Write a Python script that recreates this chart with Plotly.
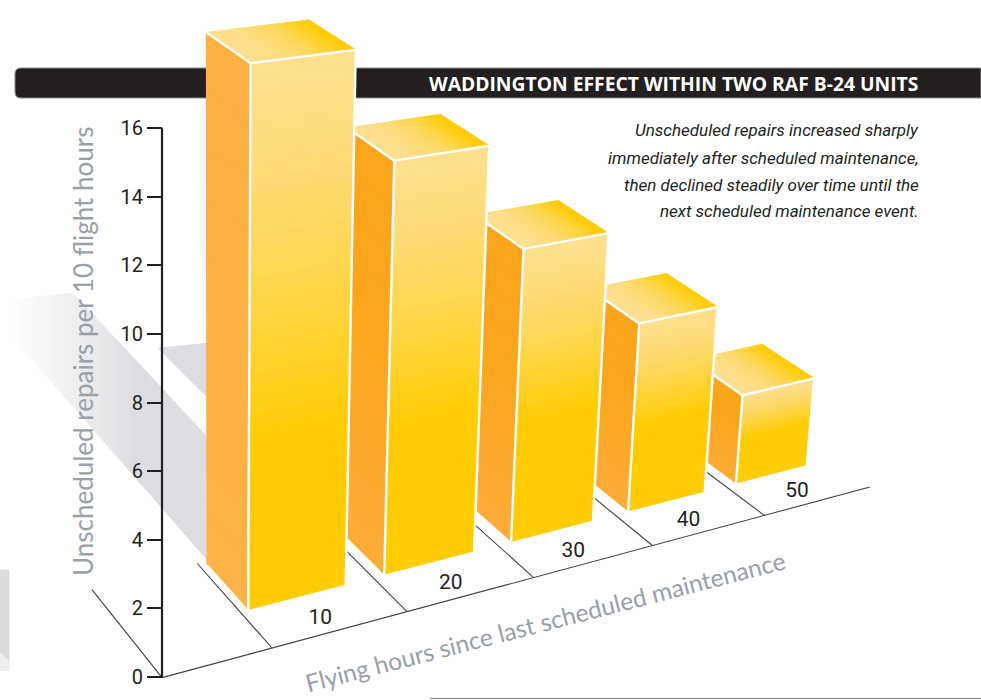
import plotly.graph_objects as go

# ---- data ----
hours = ["10", "20", "30", "40", "50"]
repairs = [16.0, 12.7, 9.4, 6.3, 3.1]
value_ticks = [0, 2, 4, 6, 8, 10, 12, 14, 16]
title_text = "WADDINGTON EFFECT WITHIN TWO RAF B-24 UNITS"
note_lines = ["Unscheduled repairs increased sharply",
              "immediately after scheduled maintenance,",
              "then declined steadily over time until the",
              "next scheduled maintenance event."]
y_title = "Unscheduled repairs per 10 flight hours"
x_title = "Flying hours since last scheduled maintenance"

# ---- perspective projection (slot, depth, value) -> page position ----
ORIGIN = (272.0, 648.0)
VP_X = (4457.0, -479.0)
VP_D = (-1049.0, -845.0)
VP_Z = (217.0, 7457.0)
KX, KZ = 1 / 30.0, -0.00475
D_FRONT, D_BACK = 0.024, 0.0575
BAR_LEFT = [0.052, 0.08, 0.102, 0.105, 0.085]
BAR_RIGHT = [0.782, 0.797, 0.797, 0.795, 0.76]


def proj(slot, depth, value=0.0):
    a, t, q = slot * KX, depth, value * KZ
    w = 1 + a + t + q
    return ((ORIGIN[0] + a * VP_X[0] + t * VP_D[0] + q * VP_Z[0]) / w,
            (ORIGIN[1] + a * VP_X[1] + t * VP_D[1] + q * VP_Z[1]) / w)


def hexmix(c1, c2, f, power=1.0):
    f = max(0.0, min(1.0, f)) ** power
    a = [int(c1[i:i + 2], 16) for i in (1, 3, 5)]
    b = [int(c2[i:i + 2], 16) for i in (1, 3, 5)]
    return "#%02x%02x%02x" % tuple(round(p + (q - p) * f) for p, q in zip(a, b))


fig = go.Figure()


def poly(pts, color, lw=0.8, line=None, closed=True):
    xs = [p[0] for p in pts] + ([pts[0][0]] if closed else [])
    ys = [p[1] for p in pts] + ([pts[0][1]] if closed else [])
    fig.add_trace(go.Scatter(x=xs, y=ys, xaxis="x", yaxis="y", mode="lines",
                             fill="toself" if closed else None,
                             fillcolor=color if closed else None,
                             line=dict(color=line or color, width=lw),
                             hoverinfo="skip", showlegend=False))


# ---- cast shadows ----
N = 40
for i in range(N):
    x0 = 9 + (210 - 9) * i / N
    x1 = 9 + (210 - 9) * (i + 1) / N
    up = lambda x: (300 - 7 * (x - 9) / 64) if x < 73 else 293 + (440 - 293) * (x - 73) / (210 - 73)
    lo = lambda x: 333 + (563 - 333) * (x - 9) / (210 - 9)
    c = hexmix("#ffffff", "#dddee1", (i / N) * 1.6)
    poly([(x0, up(x0)), (x1 + .5, up(x1 + .5)), (x1 + .5, lo(x1 + .5)), (x0, lo(x0))], c)
poly([(158, 348), (210, 343), (210, 400)], "#dddee1")
poly([(0, 570), (9, 570), (9, 670), (0, 670)], "#dcdcdc")
poly([(0, 652), (9, 662), (9, 670), (0, 670)], "#efefef")
poly([(430, 698.5), (981, 698.5)], "#888888", lw=1.2, closed=False)

# ---- floor ----
poly([proj(-0.768, 0), proj(5, 0)], "#414042", lw=1.1, closed=False)
for s in [-0.768, 0, 1, 2, 3, 4]:
    poly([proj(s, 0), proj(s, 0.06)], "#414042", lw=1.1, closed=False)

# ---- bars, far to near ----
PALE, SAT = "#fedf8f", "#ffcc05"
for i in reversed(range(len(hours))):
    v = repairs[i]
    L, R = i + BAR_LEFT[i], i + BAR_RIGHT[i]
    side_a, side_b = ("#fdb140", "#feb347") if i == 0 else ("#fba51c", "#fdae38")
    # opaque underlay so that nothing behind shows through the strip seams
    poly([proj(L, D_FRONT, 0), proj(L, D_BACK, 0), proj(L, D_BACK, v), proj(L, D_FRONT, v)], side_a)
    poly([proj(L, D_FRONT, v), proj(R, D_FRONT, v), proj(R, D_BACK, v), proj(L, D_BACK, v)], PALE)
    poly([proj(L, D_FRONT, 0), proj(R, D_FRONT, 0), proj(R, D_FRONT, v), proj(L, D_FRONT, v)], PALE)
    # left face
    n = 10
    for k in range(n):
        z0, z1 = v * k / n, v * (k + 1) / n
        poly([proj(L, D_FRONT, z0), proj(L, D_BACK, z0), proj(L, D_BACK, z1), proj(L, D_FRONT, z1)],
             hexmix(side_b, side_a, (k + .5) / n * 1.6))
    # top face
    n = 16
    for k in range(n):
        s0, s1 = L + (R - L) * k / n, L + (R - L) * (k + 1) / n
        poly([proj(s0, D_FRONT, v), proj(s1, D_FRONT, v), proj(s1, D_BACK, v), proj(s0, D_BACK, v)],
             hexmix(PALE, SAT, ((k + .5) / n - .1) / .85, 1.8))
    # front face
    n = 40
    sat_at = 0.45 + 0.014 * v
    for k in range(n):
        d0, d1 = k / n, (k + 1) / n
        z0, z1 = v * (1 - d0), v * (1 - d1)
        poly([proj(L, D_FRONT, z0), proj(R, D_FRONT, z0), proj(R, D_FRONT, z1), proj(L, D_FRONT, z1)],
             hexmix(PALE, SAT, (d0 + d1) / 2 / sat_at, 1.35))
    # white edges
    poly([proj(L, D_FRONT, 0), proj(L, D_FRONT, v), proj(R, D_FRONT, v), proj(R, D_FRONT, 0), proj(L, D_FRONT, 0)],
         "#ffffff", lw=2.4, closed=False)
    poly([proj(L, D_BACK, v), proj(L, D_FRONT, v)], "#ffffff", lw=2.4, closed=False)
    poly([proj(L, D_BACK, 0), proj(L, D_FRONT, 0)], "#ffffff", lw=2.0, closed=False)

# ---- category labels ----
pos = [proj(i + 0.44, 0.009) for i in range(len(hours))]
fig.add_trace(go.Scatter(x=[p[0] for p in pos], y=[p[1] for p in pos], xaxis="x", yaxis="y",
                         mode="text", text=hours, textposition="middle center",
                         textfont=dict(family="Roboto", size=21, color="#231f20"),
                         hoverinfo="skip", showlegend=False))
# value axis line
fig.add_trace(go.Scatter(x=[162, 162], y=[0, 16], xaxis="x", yaxis="y2", mode="lines",
                         line=dict(color="#231f20", width=2.2), hoverinfo="skip", showlegend=False))

annots = [
    dict(x=920, y=83, xref="x", yref="y", text="<b>" + title_text + "</b>", showarrow=False, xanchor="right",
         yanchor="middle", font=dict(family="Open Sans", size=19.3, color="#ffffff")),
    dict(x=545, y=621, xref="x", yref="y", text=x_title, showarrow=False, textangle=-14.5,
         font=dict(family="Lato", size=24.5, color="#9a9fa8")),
    dict(x=83, y=352, xref="x", yref="y", text=y_title, showarrow=False, textangle=-90,
         font=dict(family="Lato", size=26, color="#9a9fa8")),
]
for ln, y in zip(note_lines, [130, 158, 185, 211]):
    annots.append(dict(x=921, y=y, xref="x", yref="y", text="<i>" + ln + "</i>", showarrow=False,
                       xanchor="right", yanchor="middle",
                       font=dict(family="Roboto", size=17, color="#231f20")))

fig.update_layout(
    width=981, height=700, margin=dict(l=0, r=0, t=0, b=0, pad=0, autoexpand=False),
    paper_bgcolor="#ffffff", plot_bgcolor="rgba(0,0,0,0)", showlegend=False,
    xaxis=dict(range=[0, 981], domain=[0, 1], visible=False, fixedrange=True),
    yaxis=dict(range=[700, 0], domain=[0, 1], anchor="x", visible=False, fixedrange=True),
    yaxis2=dict(range=[0, 16], domain=[23 / 700, 572 / 700], anchor="free", position=162 / 981,
                tickmode="array", tickvals=value_ticks, ticks="outside", ticklen=15, tickwidth=1.6,
                tickcolor="#231f20", showgrid=False, zeroline=False, showline=False, automargin=False,
                tickfont=dict(family="Roboto", size=20, color="#231f20"), fixedrange=True),
    shapes=[dict(type="path", xref="x", yref="y", layer="below",
                 path="M 21 68 L 981 68 L 981 98 L 21 98 Q 15 98 15 92 L 15 74 Q 15 68 21 68 Z",
                 fillcolor="#231f20", line=dict(color="#8a8a8a", width=1))],
    annotations=annots,
)
fig.write_html("out.html", config={"displayModeBar": False},
               post_script="document.body.style.margin='0';")
